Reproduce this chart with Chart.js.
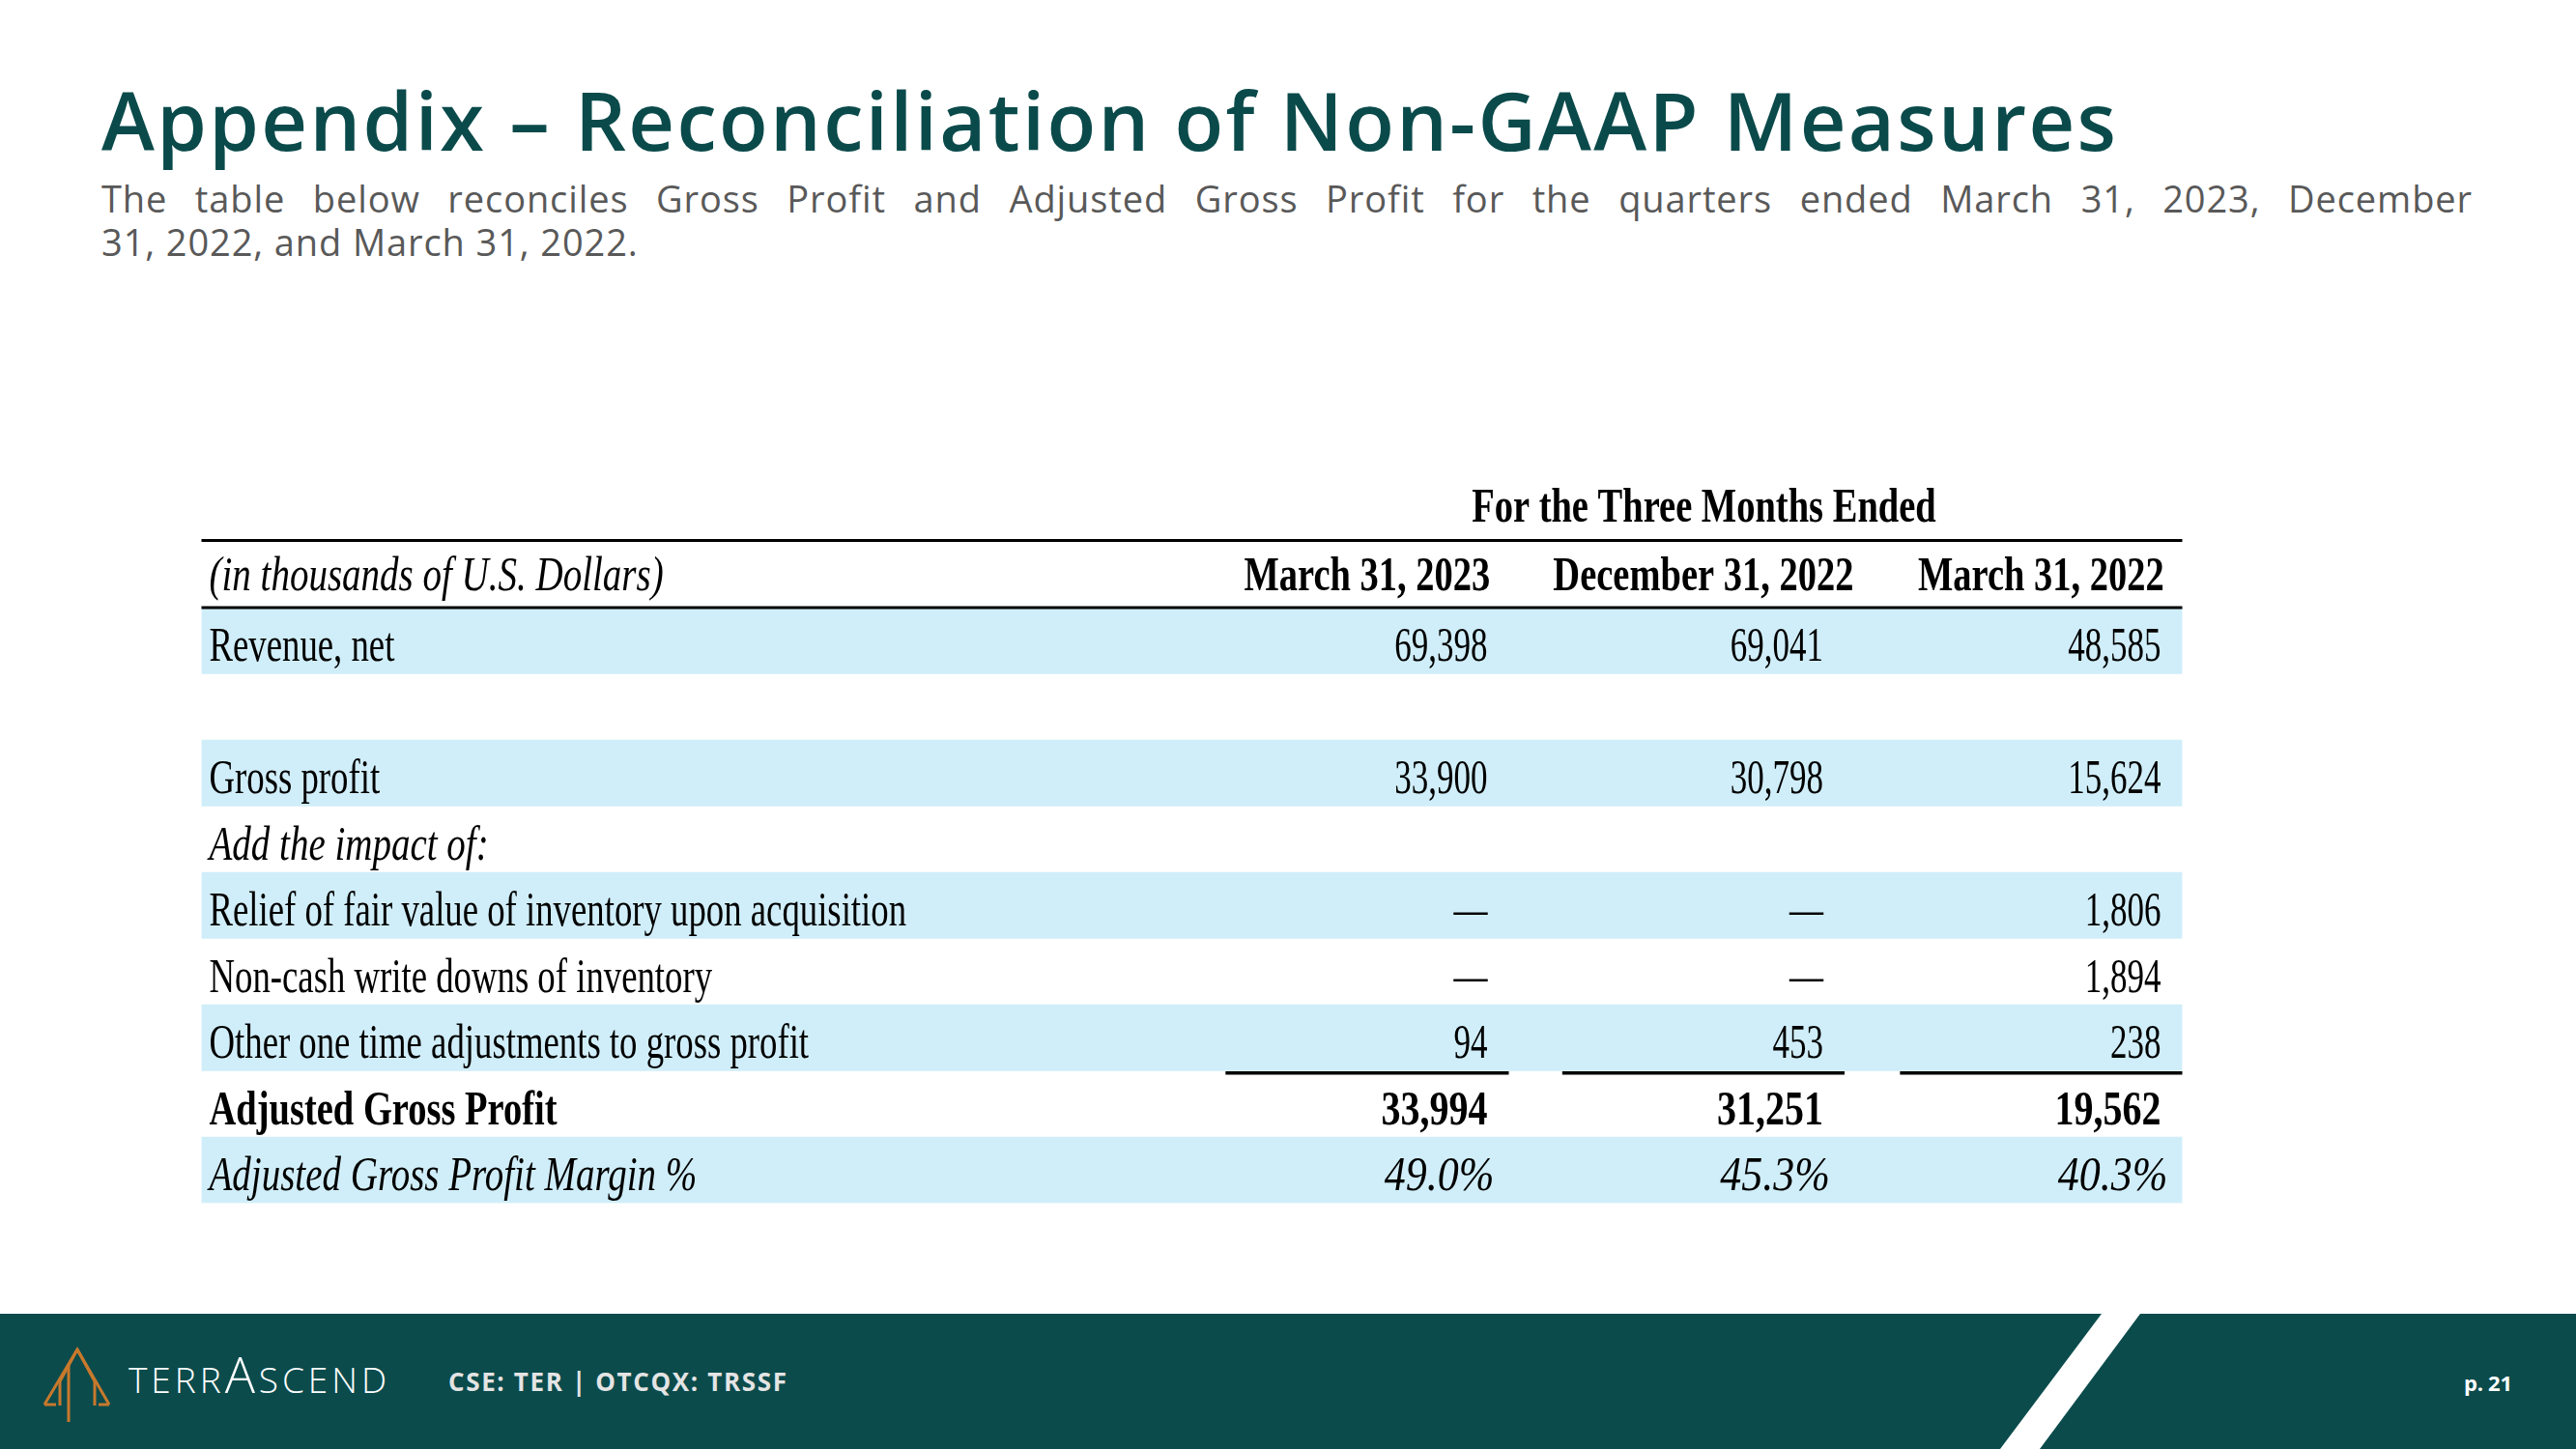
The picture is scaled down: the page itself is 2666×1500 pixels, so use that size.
<!doctype html>
<html>
<head>
<meta charset="utf-8">
<title>Appendix – Reconciliation of Non-GAAP Measures</title>
<script src="https://cdn.jsdelivr.net/npm/chart.js@4.4.9/dist/chart.umd.min.js"></script>
<style>
  html, body { margin: 0; padding: 0; background: #fff; }
  body { width: 2666px; height: 1500px; position: relative; overflow: hidden; font-family: 'Open Sans', sans-serif; }
  .abs { position: absolute; white-space: nowrap; line-height: 1; }
  #title { left: 105px; top: 82px; font-size: 83px; font-weight: 600; color: #0b4a4b; }
  #subtitle { position: absolute; left: 105px; top: 183px; width: 2454px; font-size: 38px; line-height: 45px; color: #595959; letter-spacing: 0.9px; }
  #subtitle .l1 { display: block; text-align: justify; text-align-last: justify; }
  #brand { left: 133px; top: 1409px; font-size: 37px; font-weight: 300; color: #fff; }
  #brand .bigA { font-size: 52px; line-height: 0; }
  #ticker { left: 464px; top: 1417px; font-size: 26px; font-weight: 700; color: #e4e4e4; }
  #page { left: 2550px; top: 1420px; font-size: 22px; font-weight: 700; color: #fff; }
  #chartBox { position: absolute; left: 0; top: 0; width: 2666px; height: 1500px; }
</style>
<script>

// table values (thousands of U.S. dollars), one entry per period column
const periods = ['March 31, 2023', 'December 31, 2022', 'March 31, 2022'];
const revenueNet = [69398, 69041, 48585];
const grossProfit = [33900, 30798, 15624];
const fairValueRelief = [0, 0, 1806];
const inventoryWriteDowns = [0, 0, 1894];
const otherAdjustments = [94, 453, 238];
const adjustedGrossProfit = [33994, 31251, 19562];
const adjustedMarginPct = [49.0, 45.3, 40.3];

const groupTitle = 'For the Three Months Ended';
const unitsLabel = '(in thousands of U.S. Dollars)';

// table rows, top to bottom
const rows = [
  { label: '' },
  { label: unitsLabel, style: 'italic', head: true },
  { label: 'Revenue, net', values: revenueNet, style: 'regular', shade: true },
  { label: '' },
  { label: 'Gross profit', values: grossProfit, style: 'regular', shade: true },
  { label: 'Add the impact of:', style: 'italic' },
  { label: 'Relief of fair value of inventory upon acquisition', values: fairValueRelief, style: 'regular', shade: true },
  { label: 'Non-cash write downs of inventory', values: inventoryWriteDowns, style: 'regular' },
  { label: 'Other one time adjustments to gross profit', values: otherAdjustments, style: 'regular', shade: true, underline: true },
  { label: 'Adjusted Gross Profit', values: adjustedGrossProfit, style: 'bold' },
  { label: 'Adjusted Gross Profit Margin %', values: adjustedMarginPct, style: 'italic', shade: true, pct: true },
];

// column spans on the 0..100 x scale
const colSpans = [[51.7, 66.0], [68.7, 82.95], [85.75, 100]];

const SERIF = '"Liberation Serif", "Times New Roman", serif';
const FONTS = {
  regular: '50px ' + SERIF,
  italic: 'italic 50px ' + SERIF,
  bold: 'bold 50px ' + SERIF,
};
// horizontal squeeze, the source table uses a condensed Times
const LABEL_SQ = { regular: 0.735, italic: 0.78, bold: 0.77 };
const VALUE_SQ = { regular: 0.70, italic: 0.88, bold: 0.80 };

function squeezed(ctx, str, px, py, style, sq, align) {
  ctx.save();
  ctx.font = FONTS[style];
  ctx.fillStyle = '#000';
  ctx.textAlign = align;
  ctx.textBaseline = 'alphabetic';
  ctx.translate(px, py);
  ctx.scale(sq, 1);
  ctx.fillText(str, 0, 0);
  ctx.restore();
}

function fmt(v, pct) {
  if (pct) return v.toFixed(1) + '%';
  if (v === 0) return '\u2014';
  return v.toLocaleString('en-US');
}

const tablePlugin = {
  id: 'tableText',
  afterDatasetsDraw(chart) {
    const { ctx } = chart;
    const x = chart.scales.x, y = chart.scales.y;
    const rowH = y.getPixelForValue(1) - y.getPixelForValue(0);
    const top = i => y.getPixelForValue(i) - rowH / 2;
    const left = x.getPixelForValue(0), right = x.getPixelForValue(100);
    const labels = chart.data.labels;

    ctx.save();
    ctx.fillStyle = '#000';
    ctx.fillRect(left, top(1) - 2.5, right - left, 3);
    ctx.fillRect(left, top(2) - 1.5, right - left, 3);
    rows.forEach((r, i) => {
      if (!r.underline) return;
      colSpans.forEach(([a, b]) => {
        const xa = x.getPixelForValue(a), xb = x.getPixelForValue(b);
        ctx.fillRect(xa, top(i + 1) + 0.5, xb - xa, 3.5);
      });
    });
    ctx.restore();

    // group heading over the three period columns
    const gx = (x.getPixelForValue(colSpans[0][0]) + x.getPixelForValue(colSpans[2][1])) / 2;
    squeezed(ctx, groupTitle, gx, y.getPixelForValue(0) + 14, 'bold', LABEL_SQ.bold, 'center');

    rows.forEach((r, i) => {
      const base = y.getPixelForValue(i) + (r.head ? 16.5 : 21);
      if (labels[i]) squeezed(ctx, labels[i], left + 8, base, r.style, LABEL_SQ[r.style], 'left');
      if (r.head) {
        periods.forEach((p, c) => {
          const cx = (x.getPixelForValue(colSpans[c][0]) + x.getPixelForValue(colSpans[c][1])) / 2;
          squeezed(ctx, p, cx, base, 'bold', LABEL_SQ.bold, 'center');
        });
      }
      if (r.values) {
        r.values.forEach((v, c) => {
          const rx = x.getPixelForValue(colSpans[c][1]) - (r.pct ? 15 : 22);
          squeezed(ctx, fmt(v, r.pct), rx, base, r.style, VALUE_SQ[r.style], 'right');
        });
      }
    });
  }
};

function fitWidth(el, target) {
  el.style.letterSpacing = '0px';
  const w = el.getBoundingClientRect().width;
  const n = el.textContent.length;
  el.style.letterSpacing = ((target - w) / (n - 1)) + 'px';
}

function go() {
  fitWidth(document.getElementById('title'), 2085);
  fitWidth(document.getElementById('brand'), 267);
  fitWidth(document.getElementById('ticker'), 350);
  fitWidth(document.getElementById('page'), 50);

  const canvas = document.getElementById('table');
  new Chart(canvas, {
    type: 'bar',
    data: {
      labels: rows.map(r => r.label),
      datasets: [{
        data: rows.map(r => r.shade ? [0, 100] : null),
        backgroundColor: '#d0eef9',
        borderWidth: 0,
        barPercentage: 1,
        categoryPercentage: 1,
      }]
    },
    options: {
      indexAxis: 'y',
      responsive: true,
      maintainAspectRatio: false,
      animation: false,
      events: [],
      layout: { padding: { left: 208.5, right: 407.5, top: 492, bottom: 254.5 } },
      scales: {
        x: { type: 'linear', min: 0, max: 100, display: false },
        y: { type: 'category', display: false }
      },
      plugins: { legend: { display: false }, tooltip: { enabled: false } }
    },
    plugins: [tablePlugin]
  });
}

window.onload = go;

</script>
</head>

<body>
<div id="title" class="abs">Appendix – Reconciliation of Non-GAAP Measures</div>
<div id="subtitle"><span class="l1">The table below reconciles Gross Profit and Adjusted Gross Profit for the quarters ended March 31, 2023, December</span>31, 2022, and March 31, 2022.</div>

<svg width="2666" height="140" style="position:absolute;left:0;top:1360px">
  <rect width="2666" height="140" fill="#0b4b4c"/>
  <polygon points="2175,0 2215,0 2111,140 2070,140" fill="#fff"/>
  <g fill="none" stroke="#c8792c" stroke-width="3" stroke-linejoin="miter">
    <polyline points="46,94 80,37 113,94"/>
    <polyline points="80,37 62,70 62,95"/>
    <polyline points="80,37 98,70 98,95"/>
    <polyline points="46,94 58,94"/>
    <polyline points="102,94 113,94"/>
    <line x1="71" y1="52" x2="71" y2="112"/>
  </g>
</svg>
<div id="brand" class="abs">TERR<span class="bigA">A</span>SCEND</div>
<div id="ticker" class="abs">CSE: TER | OTCQX: TRSSF</div>
<div id="page" class="abs">p. 21</div>

<div id="chartBox"><canvas id="table"></canvas></div>
</body>

</html>
